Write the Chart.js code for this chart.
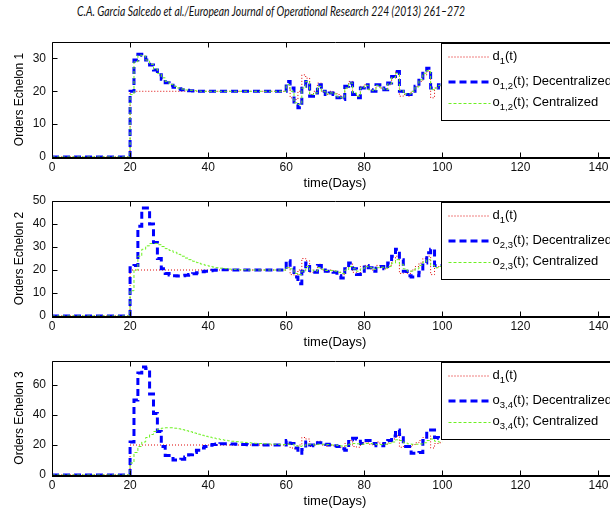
<!DOCTYPE html>
<html>
<head>
<meta charset="utf-8">
<script src="https://cdn.jsdelivr.net/npm/chart.js@4.4.1/dist/chart.umd.min.js"></script>
<style>
  html, body { margin: 0; padding: 0; background: #fff; overflow: hidden; }
  #wrap { position: relative; width: 610px; height: 510px; overflow: hidden; }
  canvas { position: absolute; left: 0; }
  #hdr { position: absolute; top: 3px; left: 77px; white-space: nowrap; font: italic 13px Lato, 'Open Sans', sans-serif; color: #111; transform-origin: 0 0; }
</style>
</head>
<body>
<div id="wrap">
  <div id="hdr">C.A. Garcia Salcedo et al./European Journal of Operational Research 224 (2013) 261–272</div>
  <canvas id="c1" width="640" height="157" style="top:34px"></canvas>
  <canvas id="c2" width="640" height="157" style="top:193px"></canvas>
  <canvas id="c3" width="640" height="156" style="top:353px"></canvas>
</div>
<script>
// days 0..100, one value per day (stairs)
const days = Array.from({ length: 101 }, (_, i) => i);
const xTicks = [0, 20, 40, 60, 80, 100, 120, 140];

const demand = [
  0, 0, 0, 0, 0, 0, 0, 0, 0, 0, 0, 0, 0, 0, 0, 0, 0, 0, 0, 0,
  20, 20, 20, 20, 20, 20, 20, 20, 20, 20, 20, 20, 20, 20, 20, 20, 20, 20, 20, 20,
  20, 20, 20, 20, 20, 20, 20, 20, 20, 20, 20, 20, 20, 20, 20, 20, 20, 20, 20, 20,
  21, 18, 17.5, 20, 25, 24, 19, 20, 22.5, 20,
  19, 20, 19.5, 19, 18, 21, 23, 19, 18.5, 21.5,
  22, 20.5, 20, 22, 21, 20.5, 22, 24, 26, 18.5,
  19, 18.5, 20, 21.5, 23, 25, 26, 18, 21, 21.5,
  21.5
];

// Echelon 1
const o12Dec = [
  0, 0, 0, 0, 0, 0, 0, 0, 0, 0, 0, 0, 0, 0, 0, 0, 0, 0, 0, 0,
  20, 29.5, 31.3, 31, 29.5, 28, 26.5, 25, 23.7, 22.6,
  21.8, 21.2, 20.8, 20.5, 20.3, 20.2, 20.1, 20, 20, 20,
  20, 20, 20, 20, 20, 20, 20, 20, 20, 20, 20, 20, 20, 20, 20, 20, 20, 20, 20, 20,
  23, 21, 16, 15, 21.5, 23, 18.5, 19.5, 22, 20,
  19, 19.5, 19, 18, 17.5, 21.5, 22.5, 19, 18, 21,
  22, 20.5, 20, 22, 21, 20.5, 22.5, 24.5, 26, 20,
  19, 19, 20, 21.5, 24, 26, 27, 21, 21, 22,
  22
];
const o12Cen = [
  0, 0, 0, 0, 0, 0, 0, 0, 0, 0, 0, 0, 0, 0, 0, 0, 0, 0, 0, 0,
  19, 29, 31, 30.8, 29.5, 28.2, 26.8, 25.4, 24.1, 23,
  22.1, 21.5, 21, 20.7, 20.4, 20.3, 20.2, 20.1, 20, 20,
  20, 20, 20, 20, 20, 20, 20, 20, 20, 20, 20, 20, 20, 20, 20, 20, 20, 20, 20, 20,
  22, 20, 16.5, 16, 21, 23, 19, 19.5, 21.5, 20,
  19.2, 19.5, 19.2, 18.3, 18, 21, 22.5, 19.5, 18.5, 21,
  21.8, 20.5, 20.2, 21.8, 21, 20.5, 22.3, 24.2, 25.5, 20.3,
  19.2, 19.2, 20, 21.3, 23.5, 25.5, 26.3, 20.5, 21, 21.8,
  21.8
];

// Echelon 2
const o23Dec = [
  0, 0, 0, 0, 0, 0, 0, 0, 0, 0, 0, 0, 0, 0, 0, 0, 0, 0, 0, 0,
  21, 22, 39, 47, 47, 40, 32, 25, 20.5, 18.5,
  17.8, 17.5, 17.4, 17.5, 17.7, 18, 18.4, 18.8, 19.2, 19.5,
  19.7, 19.9, 20, 20.1, 20.1, 20.1, 20, 20, 20, 20,
  20, 20, 20, 20, 20, 20, 20, 20, 20, 20,
  24, 21, 17, 14, 19.5, 23, 19, 19, 22, 20,
  19.5, 19.5, 19, 17.5, 16.5, 20.5, 23, 20.5, 18, 19.5,
  22, 21, 19.5, 21.5, 21.5, 20.5, 23, 26, 29, 24.5,
  19.5, 17.5, 17, 17.5, 19, 23, 27.5, 29, 22, 22,
  22
];
const o23Cen = [
  0, 0, 0, 0, 0, 0, 0, 0, 0, 0, 0, 0, 0, 0, 0, 0, 0, 0, 0, 0,
  11, 20, 26, 29, 30.5, 31.5, 31.5, 31, 30.2, 29.3,
  28.5, 27.7, 26.8, 26, 25.2, 24.5, 23.8, 23.2, 22.6, 22.1,
  21.7, 21.3, 21, 20.8, 20.6, 20.4, 20.3, 20.2, 20.1, 20.1,
  20, 20, 20, 20, 20, 20, 20, 20, 20, 20,
  21, 20.5, 18.5, 18, 19.5, 21.5, 20, 19.5, 21, 20.3,
  19.8, 19.8, 19.5, 19, 18.5, 20, 21.5, 20.5, 19.5, 20.5,
  21.5, 21, 20.3, 21, 21.2, 20.8, 21.5, 23, 24.5, 22.5,
  20.5, 19.5, 19.5, 20.5, 22, 23.5, 24.5, 22, 21, 21.5,
  21.5
];

// Echelon 3
const o34Dec = [
  0, 0, 0, 0, 0, 0, 0, 0, 0, 0, 0, 0, 0, 0, 0, 0, 0, 0, 0, 0,
  22, 50, 68, 72, 71, 54, 41, 29, 19, 13,
  11, 10, 10, 10.5, 12, 13.5, 15, 16.5, 18, 19,
  19.8, 20.3, 20.6, 20.8, 20.8, 20.7, 20.6, 20.5, 20.4, 20.3,
  20.2, 20.1, 20.1, 20, 20, 20, 20, 20, 20, 20,
  23, 21, 18, 14.5, 17, 22, 20, 19.5, 21.5, 21.5,
  20.5, 20, 19.5, 19, 17.5, 16.5, 23.5, 24.5, 24, 21,
  23, 23, 21, 19.5, 19.5, 21, 23, 26, 30, 27,
  19, 19, 14.5, 14.5, 15, 23, 30, 30, 25, 24.5,
  24.5
];
const o34Cen = [
  0, 0, 0, 0, 0, 0, 0, 0, 0, 0, 0, 0, 0, 0, 0, 0, 0, 0, 0, 0,
  8, 15, 19, 22, 25, 27, 29, 30.5, 31.2, 31.5,
  31.5, 31.2, 30.8, 30.2, 29.5, 28.8, 28, 27.2, 26.5, 25.8,
  25.2, 24.6, 24.1, 23.6, 23.2, 22.8, 22.5, 22.2, 21.9, 21.7,
  21.5, 21.3, 21.1, 21, 20.8, 20.7, 20.6, 20.5, 20.4, 20.3,
  20.5, 20.5, 19.5, 19, 19.5, 20.5, 20.5, 20, 20.5, 20.5,
  20.3, 20, 20, 19.7, 19.3, 19.5, 20.5, 21, 20.8, 20.5,
  21, 21, 20.7, 20.3, 20.3, 20.5, 21.2, 22, 23.5, 23,
  21.5, 20.8, 20.5, 20.5, 20.7, 21.5, 23, 24, 22.5, 22,
  22
];

const y1Ticks = [0, 10, 20, 30];
const y2Ticks = [0, 10, 20, 30, 40, 50];
const y3Ticks = [0, 20, 40, 60];

const legend1 = [['d', '1', '(t)'], ['o', '1,2', '(t); Decentralized'], ['o', '1,2', '(t); Centralized']];
const legend2 = [['d', '1', '(t)'], ['o', '2,3', '(t); Decentralized'], ['o', '2,3', '(t); Centralized']];
const legend3 = [['d', '1', '(t)'], ['o', '3,4', '(t); Decentralized'], ['o', '3,4', '(t); Centralized']];

Chart.defaults.font.family = "'Liberation Sans', Arial, sans-serif";
Chart.defaults.color = '#000';

const pts = vals => days.map((d, i) => ({ x: d, y: vals[i] }));

// axes box with inward ticks, matlab style
const framePlugin = {
  id: 'frame',
  afterDraw(chart) {
    const { ctx, chartArea: a, scales: { x, y } } = chart;
    const L = Math.round(a.left) + 0.5, T = Math.round(a.top) + 0.5;
    const R = Math.round(a.right) + 0.5, B = Math.round(a.bottom) + 0.5;
    ctx.save();
    ctx.strokeStyle = '#000';
    ctx.lineWidth = 1;
    ctx.setLineDash([]);
    ctx.beginPath();
    ctx.rect(L, T, R - L, B - T);
    x.ticks.forEach(t => {
      const px = Math.round(x.getPixelForValue(t.value)) + 0.5;
      ctx.moveTo(px, B); ctx.lineTo(px, B - 5);
      ctx.moveTo(px, T); ctx.lineTo(px, T + 5);
    });
    y.ticks.forEach(t => {
      const py = Math.round(y.getPixelForValue(t.value)) + 0.5;
      ctx.moveTo(L, py); ctx.lineTo(L + 5, py);
      ctx.moveTo(R, py); ctx.lineTo(R - 5, py);
    });
    ctx.stroke();
    ctx.fillStyle = '#000';
    ctx.fillRect(L - 0.5, B - 0.5, R - L + 1, 2);
    ctx.restore();
  }
};

// legend box with subscripts
const subLegend = {
  id: 'subLegend',
  afterDraw(chart, args, opts) {
    const { ctx, chartArea: a } = chart;
    const bx = Math.round(a.left + 389) + 0.5, by = Math.round(a.top + 1) + 0.5;
    const bw = a.right - 6 - bx, bh = 77;
    const rowY = [13.5, 38.5, 60];
    ctx.save();
    ctx.fillStyle = '#fff';
    ctx.fillRect(bx, by, bw, bh);
    ctx.strokeStyle = '#000';
    ctx.lineWidth = 1;
    ctx.setLineDash([]);
    ctx.strokeRect(bx, by, bw, bh);
    opts.rows.forEach((parts, i) => {
      const ds = chart.data.datasets[i];
      const ly = by + rowY[i];
      ctx.strokeStyle = ds.borderColor;
      ctx.lineWidth = ds.borderWidth;
      ctx.setLineDash(ds.borderDash);
      ctx.beginPath();
      ctx.moveTo(bx + 7, ly);
      ctx.lineTo(bx + 49, ly);
      ctx.stroke();
      ctx.fillStyle = '#000';
      ctx.textBaseline = 'middle';
      let tx = bx + 51;
      ctx.font = "13px 'Liberation Sans', Arial";
      ctx.fillText(parts[0], tx, ly - 1);
      tx += ctx.measureText(parts[0]).width;
      ctx.font = "9.5px 'Liberation Sans', Arial";
      ctx.fillText(parts[1], tx, ly + 4);
      tx += ctx.measureText(parts[1]).width;
      ctx.font = "13px 'Liberation Sans', Arial";
      ctx.fillText(parts[2], tx, ly - 1);
    });
    ctx.restore();
  }
};

function makeChart(id, dec, cen, yMax, yTicks, yTitle, rows) {
  return new Chart(document.getElementById(id), {
    type: 'line',
    data: {
      datasets: [
        { data: pts(demand), borderColor: '#dd0000', borderWidth: 1, borderDash: [1, 2], stepped: true, order: 3 },
        { data: pts(dec), borderColor: '#0000ff', borderWidth: 3, borderDash: [7, 4], stepped: true, order: 2 },
        { data: pts(cen), borderColor: '#6cf020', borderWidth: 1, borderDash: [3, 2], stepped: true, order: 1 }
      ]
    },
    options: {
      responsive: false,
      animation: false,
      devicePixelRatio: 1,
      layout: { padding: { top: 8, right: 22, left: 0, bottom: 0 } },
      elements: { point: { radius: 0 } },
      plugins: { legend: { display: false }, tooltip: { enabled: false }, subLegend: { rows: rows } },
      scales: {
        x: {
          type: 'linear', min: 0, max: 145,
          grid: { display: false, drawTicks: false }, border: { display: false },
          ticks: { font: { size: 12 }, padding: 3, color: '#111' },
          afterBuildTicks: s => { s.ticks = xTicks.map(v => ({ value: v })); },
          afterFit: s => { s.height = 34; s.paddingLeft = 0; s.paddingRight = 0; },
          title: { display: true, text: 'time(Days)', font: { size: 13 }, padding: { top: 0, bottom: 0 } }
        },
        y: {
          min: 0, max: yMax,
          grid: { display: false, drawTicks: false }, border: { display: false },
          ticks: { font: { size: 12 }, padding: 6, color: '#111' },
          afterBuildTicks: s => { s.ticks = yTicks.map(v => ({ value: v })); },
          afterFit: s => { s.width = 52; s.paddingTop = 0; s.paddingBottom = 0; },
          title: { display: true, text: yTitle, font: { size: 12 }, padding: { top: 12.8, bottom: 0 } }
        }
      }
    },
    plugins: [framePlugin, subLegend]
  });
}

makeChart('c1', o12Dec, o12Cen, 35, y1Ticks, 'Orders Echelon 1', legend1);
makeChart('c2', o23Dec, o23Cen, 50, y2Ticks, 'Orders Echelon 2', legend2);
makeChart('c3', o34Dec, o34Cen, 76, y3Ticks, 'Orders Echelon 3', legend3);

// fit header line to its width in the page
const hdr = document.getElementById('hdr');
const w = hdr.getBoundingClientRect().width;
hdr.style.transform = 'scaleX(' + (388 / w) + ')';
</script>
</body>
</html>
